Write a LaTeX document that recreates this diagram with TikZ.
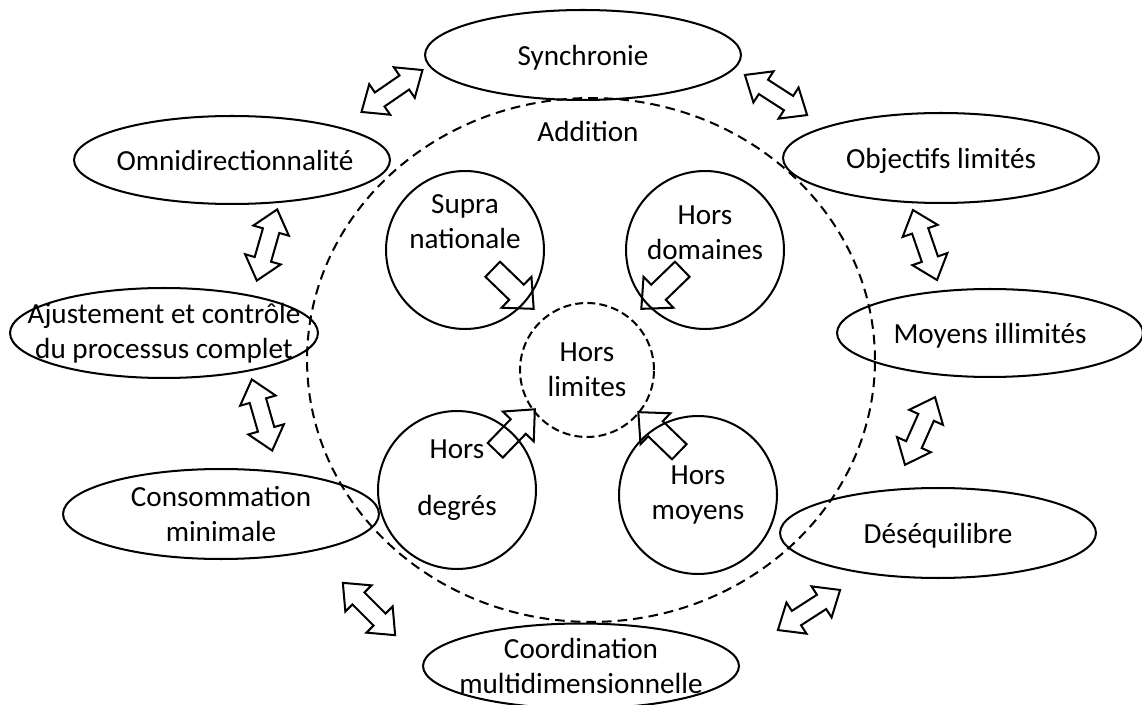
\documentclass[tikz,border=0pt]{standalone}
\usepackage{fontspec}
\setmainfont{Carlito}
\usetikzlibrary{shapes.geometric,shapes.arrows}

\begin{document}
\begin{tikzpicture}[x=0.02cm, y=-0.02cm, line width=1.15pt,
    font=\fontsize{16.6}{19.8}\selectfont,
    oval/.style={draw, ellipse, minimum width=6.32cm, minimum height=1.8cm,
        inner xsep=-2cm, inner ysep=-1cm, align=center},
    ring/.style={draw, circle, minimum size=3.16cm, inner sep=0pt},
    txt/.style={align=center, inner sep=0pt},
    dbl/.style={draw, double arrow, minimum height=1.48cm, inner sep=0.15cm,
        double arrow head extend=0.2cm, double arrow tip angle=80},
    sgl/.style={draw, single arrow, minimum height=1.14cm, inner sep=0.19cm,
        single arrow head extend=0.22cm, single arrow tip angle=84}]
    \useasboundingbox (0,0) rectangle (1142,705);
    % outer ring of principles
    \node[draw, ellipse, dash pattern=on 5.5pt off 3.4pt, minimum width=11.36cm, minimum height=10.48cm] (add) at (591,360) {};
    \node[txt] (addt) at (588,131) {Addition};
    \node[oval, text depth=0pt] (syn) at (583,55) {Synchronie};
    \node[oval, text depth=0pt] (obj) at (941,158) {Objectifs limités};
    \node[oval, text depth=0pt, minimum width=6.12cm, minimum height=1.76cm] (moy) at (990,333) {Moyens illimités};
    \node[oval, text depth=0pt] (des) at (938,533) {Déséquilibre};
    \node[oval, minimum height=1.7cm] (coo) at (581,666) {Coordination\\multidimensionnelle};
    \node[oval] (con) at (221,514) {Consommation\\minimale};
    \node[oval, minimum width=6.16cm] (aju) at (164,333) {Ajustement et contrôle\\du processus complet};
    \node[oval, minimum height=1.76cm] (omn) at (232,160) {\hspace*{0.12cm}Omnidirectionnalité};
    % inner circles
    \node[ring] (sup) at (465,250) {};
    \node[txt] (supt) at (465,222) {Supra\\nationale};
    \node[ring] (dom) at (705,250) {};
    \node[txt] (domt) at (705,233) {Hors\\domaines};
    \node[ring] (deg) at (457,490) {};
    \node[txt] (degt) at (457,480) {Hors\\[0.45cm]degrés};
    \node[ring] (mo) at (698,495) {};
    \node[txt] (mot) at (698,495) {Hors\\moyens};
    \node[draw, circle, dash pattern=on 4.5pt off 2.4pt, minimum size=2.68cm, inner sep=0pt, align=center] (lim) at (587,370) {Hors\\limites};
    % double arrows between principles
    \node[dbl, rotate=34.5] (a1) at (392,91) {};
    \node[dbl, rotate=-32.8] (a2) at (776,95) {};
    \node[dbl, rotate=-71] (a3) at (925,245) {};
    \node[dbl, rotate=66] (a4) at (920,431) {};
    \node[dbl, rotate=32.8] (a5) at (809,610) {};
    \node[dbl, rotate=-45] (a6) at (369,609) {};
    \node[dbl, rotate=-74] (a7) at (262,415) {};
    \node[dbl, rotate=74] (a8) at (267,245) {};
    % arrows into the centre
    \node[sgl, rotate=-44] (s1) at (509,285) {};
    \node[sgl, rotate=-136] (s2) at (666,285) {};
    \node[sgl, rotate=46] (s3) at (511,434) {};
    \node[sgl, rotate=136] (s4) at (663,436) {};
\end{tikzpicture}
\end{document}
